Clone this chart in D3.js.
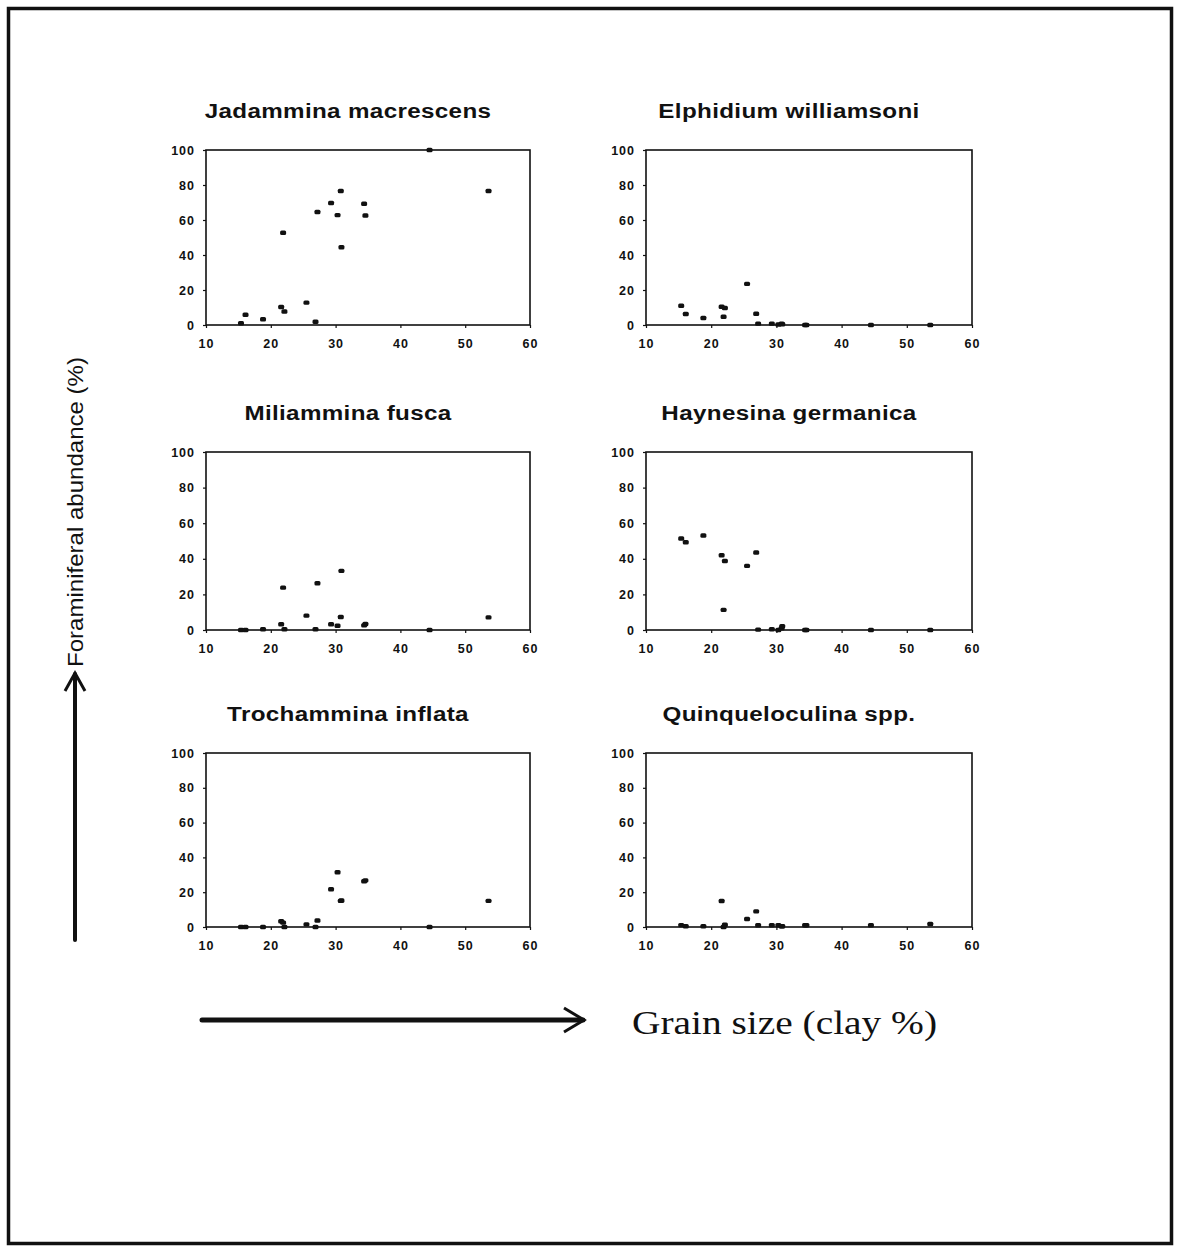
<!DOCTYPE html>
<html>
<head>
<meta charset="utf-8">
<script src="https://cdn.jsdelivr.net/npm/d3@7"></script>
<style>
  html, body { margin: 0; padding: 0; background: #fff; }
  svg { display: block; }
</style>
</head>
<body>
<svg id="chart" width="1181" height="1252"></svg>
<script>
// ---- data ----
const species = ["Jadammina macrescens", "Elphidium williamsoni", "Miliammina fusca",
                 "Haynesina germanica", "Trochammina inflata", "Quinqueloculina spp."];
const clay = [15.4, 16.1, 18.8, 21.6, 21.9, 22.1, 25.5, 26.9, 27.2, 29.3, 30.3, 30.8, 30.9, 34.4, 34.6, 44.5, 53.6];
const jadammina      = [1.0, 5.9, 3.3, 10.3, 52.7, 7.7, 12.8, 1.9, 64.6, 69.7, 62.8, 76.6, 44.4, 69.3, 62.6, 100, 76.6];
const elphidium      = [11.0, 6.3, 4.0, 10.4, 4.7, 9.7, 23.5, 6.4, 0.8, 0.8, 0.3, 0.8, 0.4, 0, 0, 0, 0];
const miliammina     = [0, 0, 0.4, 3.2, 23.8, 0.4, 8.1, 0.4, 26.3, 3.2, 2.4, 7.3, 33.2, 2.6, 3.4, 0, 7.1];
const haynesina      = [51.4, 49.3, 53.1, 42.0, 11.3, 38.8, 36.0, 43.5, 0.2, 0.4, 0, 1.0, 2.1, 0, 0, 0, 0];
const trochammina    = [0, 0, 0, 3.3, 2.5, 0, 1.5, 0, 3.7, 21.7, 31.5, 15.0, 15.2, 26.3, 26.8, 0, 15.0];
const quinqueloculina = [1.1, 0.4, 0.4, 14.9, 0, 1.3, 4.6, 9.0, 1.0, 1.0, 1.0, 0.4, 0.4, 1.0, 1.0, 1.0, 1.7];
const xTicks = [10, 20, 30, 40, 50, 60];
const yTicks = [0, 20, 40, 60, 80, 100];
const yAxisTitle = "Foraminiferal abundance (%)";
const xAxisTitle = "Grain size (clay %)";

const seriesValues = [jadammina, elphidium, miliammina, haynesina, trochammina, quinqueloculina];

// ---- layout ----
const cols = [[206, 530], [646, 972]];
const rows = [[150, 325], [452, 630], [753, 927]];
const sans = "'Liberation Sans', Arial, Helvetica, sans-serif";
const ink = "#111";

const svg = d3.select("#chart");

// outer frame
svg.append("rect")
  .attr("x", 8.5).attr("y", 8.5).attr("width", 1163).attr("height", 1235)
  .attr("fill", "none").attr("stroke", ink).attr("stroke-width", 3.5);

species.forEach((name, i) => {
  const c = cols[i % 2], r = rows[Math.floor(i / 2)];
  const x = d3.scaleLinear().domain([10, 60]).range(c);
  const y = d3.scaleLinear().domain([0, 100]).range([r[1], r[0]]);
  const g = svg.append("g");

  // title (horizontally widened like the scanned original)
  const tx = (c[0] + c[1]) / 2 - 20, ty = r[0] - 32;
  g.append("text")
    .attr("transform", `translate(${tx},${ty}) scale(1.18,1)`)
    .attr("text-anchor", "middle")
    .attr("font-family", sans)
    .attr("font-weight", "bold")
    .attr("font-size", 20.5)
    .attr("letter-spacing", 0.3)
    .attr("fill", ink)
    .text(name);

  // axes
  const xa = g.append("g").attr("transform", `translate(0,${r[1]})`)
    .call(d3.axisBottom(x).tickValues(xTicks).tickSize(3).tickPadding(8).tickFormat(d3.format("d")));
  const ya = g.append("g").attr("transform", `translate(${c[0]},0)`)
    .call(d3.axisLeft(y).tickValues(yTicks).tickSize(3).tickPadding(8).tickFormat(d3.format("d")));
  [xa, ya].forEach(a => {
    a.select(".domain").remove();
    a.selectAll(".tick line").attr("stroke", ink).attr("stroke-width", 1.2);
    a.selectAll(".tick text")
      .attr("font-family", sans).attr("font-size", 12.5).attr("font-weight", "bold")
      .attr("letter-spacing", 1.0)
      .attr("fill", ink);
  });
  xa.selectAll(".tick text").attr("dy", "0.95em");

  // plot frame
  g.append("rect")
    .attr("x", c[0]).attr("y", r[0])
    .attr("width", c[1] - c[0]).attr("height", r[1] - r[0])
    .attr("fill", "none").attr("stroke", ink).attr("stroke-width", 1.6);

  // points
  const vals = seriesValues[i];
  g.selectAll("rect.pt").data(clay.map((cx, k) => [cx, vals[k]]))
    .join("rect").attr("class", "pt")
    .attr("x", d => x(d[0]) - 3).attr("y", d => y(d[1]) - 2.2)
    .attr("width", 6).attr("height", 4.4).attr("rx", 1.5)
    .attr("fill", ink);
});

// y axis title (rotated)
svg.append("text")
  .attr("transform", "translate(83,512) rotate(-90)")
  .attr("text-anchor", "middle")
  .attr("font-family", sans)
  .attr("font-size", 22)
  .attr("textLength", 310)
  .attr("lengthAdjust", "spacingAndGlyphs")
  .attr("fill", ink)
  .text(yAxisTitle);

// up arrow
svg.append("line").attr("x1", 75).attr("y1", 940).attr("x2", 75).attr("y2", 674)
  .attr("stroke", ink).attr("stroke-width", 4).attr("stroke-linecap", "round");
svg.append("path").attr("d", "M65,691 L75,673 L85,691")
  .attr("fill", "none").attr("stroke", ink).attr("stroke-width", 3).attr("stroke-linejoin", "miter");

// right arrow
svg.append("line").attr("x1", 202).attr("y1", 1020).attr("x2", 583).attr("y2", 1020)
  .attr("stroke", ink).attr("stroke-width", 5).attr("stroke-linecap", "round");
svg.append("path").attr("d", "M564,1008 L584,1020 L564,1032")
  .attr("fill", "none").attr("stroke", ink).attr("stroke-width", 3);

// x axis title
svg.append("text")
  .attr("x", 632).attr("y", 1034)
  .attr("font-family", "'Liberation Serif', 'Times New Roman', serif")
  .attr("font-size", 34)
  .attr("textLength", 305)
  .attr("lengthAdjust", "spacingAndGlyphs")
  .attr("fill", ink)
  .text(xAxisTitle);
</script>
</body>
</html>
